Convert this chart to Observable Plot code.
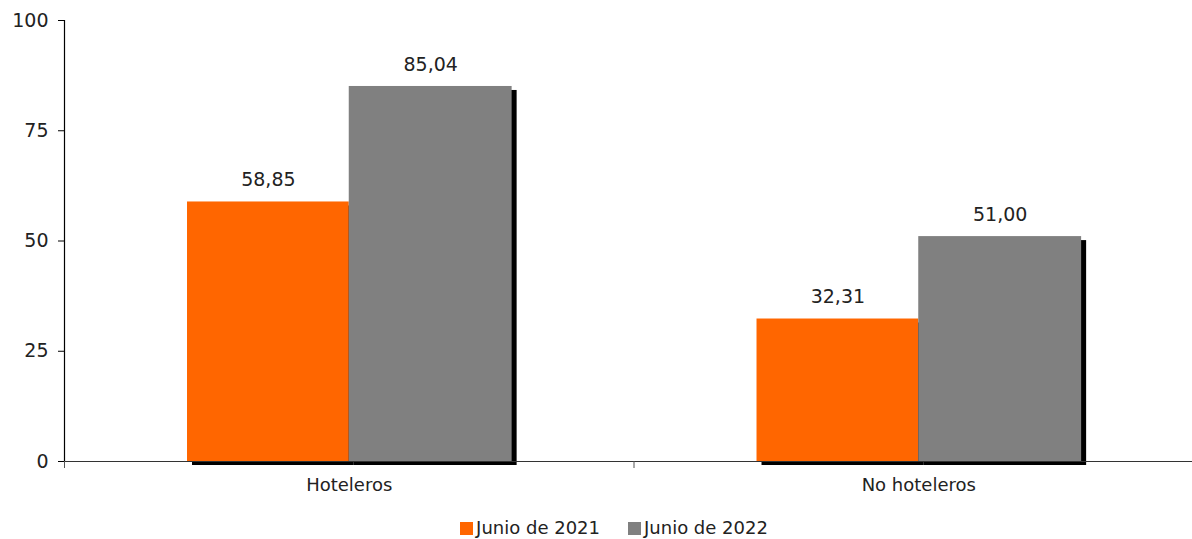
<!DOCTYPE html>
<html>
<head>
<meta charset="utf-8">
<script src="https://cdn.jsdelivr.net/npm/d3@7"></script>
<script src="https://cdn.jsdelivr.net/npm/@observablehq/plot@0.6"></script>
<style>
  html, body { margin: 0; padding: 0; background: #fff; }
  body { width: 1192px; height: 539px; overflow: hidden; font-family: "DejaVu Sans", sans-serif; }
  #chart svg { display: block; }
  #legend { height: 34px; display: flex; justify-content: center; align-items: flex-start; gap: 28px; font-size: 18px; color: #222; padding-left: 36px; padding-top: 12px; box-sizing: border-box; }
  #legend .item { display: flex; align-items: center; gap: 3px; line-height: 22px; }
  #legend .sw { width: 13px; height: 13px; display: inline-block; }
</style>
</head>
<body>
<div id="chart"></div>
<div id="legend"></div>
<script>
const categories = ["Hoteleros", "No hoteleros"];
const series = ["Junio de 2021", "Junio de 2022"];
const values2021 = [58.85, 32.31];
const values2022 = [85.04, 51.00];
const yTicks = [0, 25, 50, 75, 100];
const colors = ["#FF6600", "#808080"];

const data = [];
categories.forEach((c, i) => {
  data.push({cat: c, i, s: series[0], v: values2021[i], x1: i + 0.216, x2: i + 0.5});
  data.push({cat: c, i, s: series[1], v: values2022[i], x1: i + 0.5, x2: i + 0.786});
});
const fmt = v => v.toFixed(2).replace(".", ",");
const font = "DejaVu Sans";

const plot = Plot.plot({
  width: 1192,
  height: 505,
  marginTop: 20,
  marginBottom: 44,
  marginLeft: 64,
  marginRight: 0,
  style: {fontFamily: font, fontSize: "16px", color: "#222", background: "#fff"},
  x: {type: "linear", domain: [0, categories.length], range: [64, 1203], label: null},
  y: {domain: [0, 100], range: [461, 20], label: null},
  color: {domain: series, range: colors},
  marks: [
    // shadows
    Plot.rectY(data, {x1: "x1", x2: "x2", y: "v", fill: "#000", dx: 5, dy: 4}),
    Plot.rectY(data, {x1: "x1", x2: "x2", y: "v", fill: "s"}),
    Plot.text(data, {x: d => (d.x1 + d.x2) / 2, y: "v", text: d => fmt(d.v), dy: -22, fontSize: 19, fill: "#222"}),
    Plot.ruleY([0], {stroke: "#333", strokeWidth: 1.2}),
    Plot.ruleX([0], {y1: 0, y2: 100, stroke: "#000", strokeWidth: 1.2}),
    Plot.axisY({ticks: yTicks, tickSize: 6, tickPadding: 10, fontSize: 19, stroke: "#000", label: null, tickFormat: d => String(d)}),
    Plot.axisX({ticks: d3.range(0, categories.length + 1), tickSize: 7, tickFormat: () => "", stroke: "#555", label: null}),
    Plot.axisX({ticks: categories.map((c, i) => i + 0.5), tickSize: 0, tickPadding: 17, fontSize: 18, label: null, tickFormat: d => categories[Math.floor(d)]})
  ]
});
document.getElementById("chart").appendChild(plot);

const legend = document.getElementById("legend");
series.forEach((s, k) => {
  const it = document.createElement("div");
  it.className = "item";
  const sw = document.createElement("span");
  sw.className = "sw";
  sw.style.background = colors[k];
  const t = document.createElement("span");
  t.textContent = s;
  it.appendChild(sw); it.appendChild(t);
  legend.appendChild(it);
});
</script>
</body>
</html>
